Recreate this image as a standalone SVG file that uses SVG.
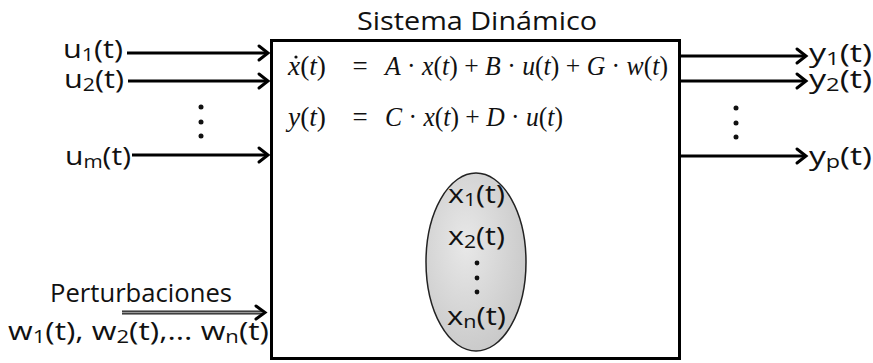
<svg xmlns="http://www.w3.org/2000/svg" width="873" height="363" viewBox="0 0 873 363">
<defs>
<style>
.lbl{font-family:"Open Sans","Liberation Sans",sans-serif;font-size:26px;fill:#111}
.eq{font-family:"Liberation Serif","DejaVu Serif",serif;font-size:27px;fill:#111}
.it{font-style:italic}
.arr{stroke:#000;stroke-width:3;fill:none}
.head{stroke:#000;stroke-width:3;fill:none;stroke-linecap:round;stroke-linejoin:miter}
</style>
<radialGradient id="eg" cx="0.4" cy="0.4" r="0.7"><stop offset="0" stop-color="#e8e8e8"/><stop offset="1" stop-color="#c6c6c6"/></radialGradient>
</defs>
<rect width="873" height="363" fill="#fff"/>
<g id="title"><text class="lbl" x="477" y="30" font-size="27" text-anchor="middle" textLength="240" lengthAdjust="spacingAndGlyphs">Sistema Dinámico</text></g>
<g id="system">
<rect x="271.5" y="40.5" width="408" height="318" fill="#fff" stroke="#000" stroke-width="3"/>
<g id="equations">
<text class="eq" x="288" y="75" textLength="38" lengthAdjust="spacingAndGlyphs"><tspan class="it">x</tspan>(<tspan class="it">t</tspan>)</text>
<circle cx="296" cy="57" r="1.6" fill="#111"/>
<text class="eq" x="360" y="75" text-anchor="middle">=</text>
<text class="eq" x="385" y="75" textLength="283" lengthAdjust="spacingAndGlyphs"><tspan class="it">A</tspan> · <tspan class="it">x</tspan>(<tspan class="it">t</tspan>) + <tspan class="it">B</tspan> · <tspan class="it">u</tspan>(<tspan class="it">t</tspan>) + <tspan class="it">G</tspan> · <tspan class="it">w</tspan>(<tspan class="it">t</tspan>)</text>
<text class="eq" x="288" y="126" textLength="38" lengthAdjust="spacingAndGlyphs"><tspan class="it">y</tspan>(<tspan class="it">t</tspan>)</text>
<text class="eq" x="360" y="126" text-anchor="middle">=</text>
<text class="eq" x="385" y="126" textLength="178" lengthAdjust="spacingAndGlyphs"><tspan class="it">C</tspan> · <tspan class="it">x</tspan>(<tspan class="it">t</tspan>) + <tspan class="it">D</tspan> · <tspan class="it">u</tspan>(<tspan class="it">t</tspan>)</text>
</g>
</g>
<g id="states">
<ellipse cx="476" cy="262" rx="50" ry="89" fill="url(#eg)" stroke="#222" stroke-width="1.5"/>
<text class="lbl" x="448" y="203" textLength="57" lengthAdjust="spacingAndGlyphs">x<tspan font-size="18" dy="3">1</tspan><tspan dy="-3">(t)</tspan></text>
<text class="lbl" x="448" y="245" textLength="57" lengthAdjust="spacingAndGlyphs">x<tspan font-size="18" dy="3">2</tspan><tspan dy="-3">(t)</tspan></text>
<circle cx="477" cy="263" r="2.4" fill="#111"/>
<circle cx="477" cy="278" r="2.4" fill="#111"/>
<circle cx="477" cy="292" r="2.4" fill="#111"/>
<text class="lbl" x="447" y="325" textLength="59" lengthAdjust="spacingAndGlyphs">x<tspan font-size="18" dy="3">n</tspan><tspan dy="-3">(t)</tspan></text>
</g>
<g id="inputs">
<text class="lbl" x="63" y="58" textLength="60" lengthAdjust="spacingAndGlyphs">u<tspan font-size="18" dy="3">1</tspan><tspan dy="-3">(t)</tspan></text>
<text class="lbl" x="64" y="88" textLength="60" lengthAdjust="spacingAndGlyphs">u<tspan font-size="18" dy="3">2</tspan><tspan dy="-3">(t)</tspan></text>
<circle cx="201" cy="107" r="2.5" fill="#111"/>
<circle cx="201" cy="122" r="2.5" fill="#111"/>
<circle cx="201" cy="136" r="2.5" fill="#111"/>
<text class="lbl" x="65" y="165" textLength="66" lengthAdjust="spacingAndGlyphs">u<tspan font-size="18" dy="3">m</tspan><tspan dy="-3">(t)</tspan></text>
</g>
<g id="outputs">
<text class="lbl" x="809" y="62" textLength="63" lengthAdjust="spacingAndGlyphs">y<tspan font-size="18" dy="3">1</tspan><tspan dy="-3">(t)</tspan></text>
<text class="lbl" x="809" y="88" textLength="63" lengthAdjust="spacingAndGlyphs">y<tspan font-size="18" dy="3">2</tspan><tspan dy="-3">(t)</tspan></text>
<circle cx="736" cy="108" r="2.5" fill="#111"/>
<circle cx="736" cy="123" r="2.5" fill="#111"/>
<circle cx="736" cy="137" r="2.5" fill="#111"/>
<text class="lbl" x="809" y="165" textLength="63" lengthAdjust="spacingAndGlyphs">y<tspan font-size="18" dy="3">p</tspan><tspan dy="-3">(t)</tspan></text>
</g>
<g id="disturbances">
<text class="lbl" x="50" y="302" font-size="22" textLength="182" lengthAdjust="spacingAndGlyphs">Perturbaciones</text>
<text class="lbl" x="8" y="340" textLength="261" lengthAdjust="spacingAndGlyphs">w<tspan font-size="18" dy="3">1</tspan><tspan dy="-3">(t), w</tspan><tspan font-size="18" dy="3">2</tspan><tspan dy="-3">(t),... w</tspan><tspan font-size="18" dy="3">n</tspan><tspan dy="-3">(t)</tspan></text>
</g>
<g id="connectors">
<line class="arr" x1="127" y1="53" x2="268" y2="53"/><polyline class="head" points="259,46 268,53 259,60"/>
<line class="arr" x1="128" y1="81" x2="268" y2="81"/><polyline class="head" points="259,74 268,81 259,88"/>
<line class="arr" x1="132" y1="155" x2="268" y2="155"/><polyline class="head" points="259,148 268,155 259,162"/>
<line class="arr" x1="681" y1="56" x2="806" y2="56"/><polyline class="head" points="797,49 806,56 797,63"/>
<line class="arr" x1="681" y1="81" x2="806" y2="81"/><polyline class="head" points="797,74 806,81 797,88"/>
<line class="arr" x1="681" y1="156" x2="806" y2="156"/><polyline class="head" points="797,149 806,156 797,163"/>
<line x1="122" y1="312.5" x2="262" y2="312.5" stroke="#222" stroke-width="4"/>
<line x1="122" y1="312.5" x2="262" y2="312.5" stroke="#999" stroke-width="1.5"/>
<polyline class="head" points="256,306 265,312.5 256,319" stroke-width="2.5"/>
</g>
</svg>
